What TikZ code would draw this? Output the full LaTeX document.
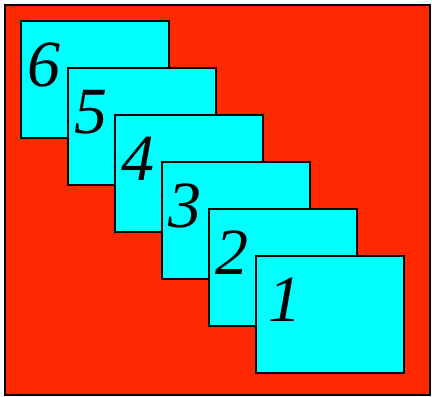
\documentclass[tikz,border=0pt]{standalone}
\usepackage{fontspec}
\setmainfont{Liberation Serif}
\usetikzlibrary{calc}
\definecolor{bgred}{RGB}{255,40,0}
\definecolor{cardcyan}{RGB}{0,255,255}
\begin{document}
\begin{tikzpicture}[x=1pt,y=-1pt,
  card/.style={draw=black,line width=2pt,fill=cardcyan,minimum width=148pt,minimum height=117pt,inner sep=0pt,outer sep=0pt,anchor=north west},
  num/.style={font=\fontsize{66}{66}\selectfont\itshape,anchor=base west,inner sep=0pt,outer sep=0pt}]
\useasboundingbox (0,0) rectangle (432,397);
\node[draw=black,fill=bgred,line width=1.5pt,minimum width=425pt,minimum height=390pt,inner sep=0pt,outer sep=0pt,anchor=north west] (bg) at (5,5) {};
\foreach \k in {6,5,4,3,2}{
  \node[card] (c\k) at ({20.5+47*(6-\k)},{20.5+47*(6-\k)}) {};
  \node[num] (n\k) at ($(c\k.north west)+(7,66)$) {\k};
}
\node[card] (c1) at (255.5,255.5) {};
\node[num] (n1) at ($(c1.north west)+(13,66)$) {1};
\end{tikzpicture}
\end{document}
